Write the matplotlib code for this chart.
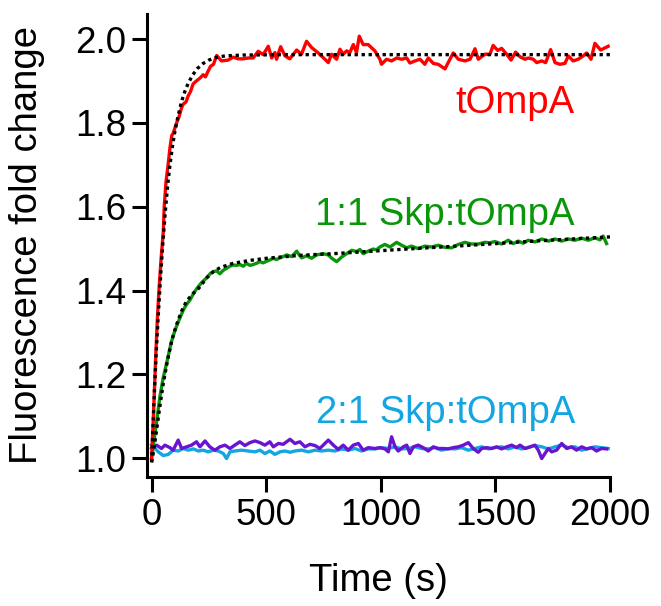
import matplotlib.pyplot as plt

plt.rcParams['font.family'] = ['Liberation Sans', 'DejaVu Sans']

# (time s, fold change)
tompa = [(0, 1.00), (8, 1.10), (17, 1.23), (25, 1.33), (32, 1.40), (42, 1.48), (51, 1.54), (55, 1.60),
         (63, 1.66), (72, 1.70), (80, 1.74), (88, 1.77), (94, 1.775), (109, 1.80), (120, 1.815), (130, 1.835),
         (138, 1.845), (150, 1.85), (160, 1.865), (170, 1.875), (181, 1.893), (195, 1.90), (211, 1.907),
         (225, 1.915), (235, 1.91), (247, 1.924), (257, 1.935), (270, 1.94), (284, 1.961), (305, 1.948),
         (334, 1.95), (356, 1.957), (378, 1.953), (400, 1.953), (421, 1.955), (443, 1.955), (465, 1.971),
         (487, 1.963), (509, 1.983), (524, 1.955), (538, 1.968), (545, 1.952), (563, 1.982), (582, 1.96),
         (603, 1.953), (633, 1.974), (654, 1.964), (676, 1.995), (698, 1.98), (727, 1.967), (756, 1.952),
         (771, 1.944), (785, 1.964), (807, 1.952), (822, 1.976), (836, 1.964), (851, 1.972), (865, 1.968),
         (880, 1.987), (894, 1.968), (906, 2.007), (923, 1.987), (945, 1.987), (974, 1.972), (996, 1.952),
         (1003, 1.94), (1025, 1.952), (1047, 1.948), (1069, 1.955), (1091, 1.952), (1113, 1.955),
         (1127, 1.943), (1149, 1.948), (1171, 1.952), (1192, 1.94), (1207, 1.955), (1229, 1.942),
         (1250, 1.94), (1280, 1.929), (1294, 1.944), (1316, 1.967), (1338, 1.952), (1367, 1.948),
         (1389, 1.952), (1411, 1.977), (1425, 1.952), (1454, 1.964), (1476, 1.964), (1490, 1.985),
         (1510, 1.973), (1527, 1.978), (1549, 1.964), (1568, 1.95), (1588, 1.969), (1607, 1.958),
         (1629, 1.952), (1643, 1.955), (1665, 1.952), (1680, 1.944), (1702, 1.948), (1719, 1.944),
         (1741, 1.975), (1760, 1.944), (1781, 1.94), (1803, 1.942), (1818, 1.96), (1839, 1.948),
         (1861, 1.952), (1883, 1.96), (1898, 1.967), (1917, 1.952), (1934, 1.99), (1959, 1.974),
         (1992, 1.983)]

skp_1to1 = [(0, 1.00), (7, 1.027), (20, 1.08), (36, 1.146), (50, 1.19), (72, 1.242), (85, 1.275),
            (102, 1.305), (120, 1.33), (138, 1.353), (150, 1.365), (167, 1.377), (185, 1.395), (203, 1.409),
            (220, 1.42), (240, 1.43), (255, 1.44), (269, 1.445), (283, 1.447), (298, 1.44), (312, 1.448),
            (327, 1.453), (341, 1.458), (356, 1.461), (370, 1.46), (385, 1.462), (400, 1.458), (414, 1.465),
            (429, 1.46), (443, 1.462), (458, 1.465), (472, 1.469), (487, 1.466), (502, 1.47), (516, 1.473),
            (531, 1.477), (545, 1.474), (560, 1.478), (574, 1.481), (589, 1.485), (611, 1.481), (633, 1.494),
            (644, 1.485), (655, 1.478), (676, 1.483), (698, 1.477), (720, 1.485), (749, 1.488), (771, 1.485),
            (786, 1.477), (807, 1.469), (818, 1.474), (829, 1.48), (851, 1.488), (873, 1.496), (894, 1.493),
            (909, 1.498), (923, 1.488), (945, 1.494), (967, 1.499), (981, 1.497), (996, 1.504), (1018, 1.51),
            (1040, 1.504), (1069, 1.515), (1091, 1.508), (1113, 1.502), (1134, 1.506), (1163, 1.50),
            (1192, 1.506), (1221, 1.504), (1251, 1.508), (1280, 1.503), (1309, 1.502), (1338, 1.51),
            (1367, 1.515), (1396, 1.511), (1425, 1.511), (1454, 1.515), (1476, 1.514), (1498, 1.517),
            (1527, 1.511), (1556, 1.52), (1578, 1.512), (1600, 1.518), (1621, 1.513), (1643, 1.52),
            (1672, 1.516), (1702, 1.523), (1731, 1.518), (1760, 1.523), (1789, 1.518), (1818, 1.523),
            (1847, 1.52), (1876, 1.525), (1905, 1.52), (1934, 1.526), (1956, 1.521), (1970, 1.53),
            (1985, 1.512)]

skp_2to1 = [(0, 1.032), (29, 1.015), (51, 1.006), (73, 1.009), (94, 1.019), (116, 1.017), (138, 1.023),
            (160, 1.019), (182, 1.022), (204, 1.017), (225, 1.019), (247, 1.015), (269, 1.019), (291, 1.017),
            (313, 1.011), (327, 0.999), (342, 1.015), (363, 1.017), (392, 1.019), (422, 1.017), (451, 1.015),
            (473, 1.019), (494, 1.011), (516, 1.017), (538, 1.009), (560, 1.015), (582, 1.017), (604, 1.014),
            (625, 1.017), (654, 1.019), (684, 1.015), (713, 1.019), (742, 1.017), (771, 1.019), (800, 1.017),
            (829, 1.022), (858, 1.019), (887, 1.023), (916, 1.017), (945, 1.022), (974, 1.022), (1003, 1.025),
            (1033, 1.023), (1062, 1.027), (1091, 1.022), (1120, 1.023), (1149, 1.027), (1178, 1.023),
            (1207, 1.022), (1236, 1.025), (1265, 1.019), (1294, 1.023), (1323, 1.022), (1352, 1.025),
            (1382, 1.019), (1411, 1.023), (1440, 1.027), (1469, 1.022), (1498, 1.025), (1527, 1.027),
            (1556, 1.022), (1585, 1.027), (1614, 1.022), (1643, 1.025), (1672, 1.030), (1702, 1.027),
            (1731, 1.022), (1760, 1.027), (1789, 1.031), (1818, 1.025), (1847, 1.027), (1876, 1.019),
            (1905, 1.023), (1934, 1.027), (1963, 1.025), (1992, 1.023)]

skp_2to1_b = [(0, 1.023), (22, 1.031), (43, 1.023), (58, 1.031), (80, 1.025), (94, 1.019), (116, 1.043),
              (131, 1.023), (153, 1.027), (174, 1.031), (196, 1.039), (211, 1.027), (233, 1.041), (254, 1.027),
              (276, 1.019), (298, 1.027), (320, 1.031), (342, 1.023), (363, 1.031), (385, 1.039), (407, 1.030),
              (429, 1.037), (451, 1.041), (473, 1.037), (494, 1.031), (516, 1.039), (531, 1.027), (553, 1.035),
              (574, 1.033), (604, 1.045), (625, 1.035), (647, 1.039), (669, 1.027), (691, 1.033), (713, 1.030),
              (734, 1.023), (756, 1.035), (771, 1.043), (793, 1.031), (814, 1.021), (836, 1.031), (858, 1.019),
              (880, 1.031), (902, 1.035), (923, 1.019), (945, 1.025), (974, 1.023), (996, 1.025), (1018, 1.022),
              (1033, 1.015), (1047, 1.051), (1062, 1.027), (1076, 1.017), (1098, 1.027), (1113, 1.031),
              (1127, 1.011), (1142, 1.027), (1163, 1.031), (1185, 1.025), (1207, 1.017), (1229, 1.027),
              (1251, 1.023), (1272, 1.023), (1294, 1.022), (1316, 1.025), (1338, 1.027), (1360, 1.031),
              (1382, 1.037), (1403, 1.023), (1425, 1.014), (1440, 1.023), (1462, 1.025), (1483, 1.023),
              (1505, 1.027), (1527, 1.022), (1549, 1.027), (1571, 1.031), (1592, 1.025), (1607, 1.031),
              (1629, 1.023), (1651, 1.027), (1672, 1.031), (1687, 1.019), (1702, 0.999), (1716, 1.011),
              (1731, 1.023), (1745, 1.015), (1767, 1.019), (1789, 1.035), (1811, 1.023), (1832, 1.027),
              (1854, 1.019), (1876, 1.027), (1898, 1.022), (1920, 1.025), (1941, 1.017), (1963, 1.023),
              (1985, 1.022)]

fit_tompa = [(0, 0.99), (10, 1.13), (20, 1.25), (30, 1.35), (40, 1.44), (50, 1.52), (60, 1.59), (70, 1.65),
             (80, 1.70), (90, 1.74), (100, 1.775), (115, 1.815), (130, 1.85), (145, 1.875), (160, 1.895),
             (180, 1.915), (200, 1.93), (225, 1.942), (250, 1.95), (280, 1.956), (320, 1.96), (400, 1.962),
             (600, 1.963), (1000, 1.963), (1500, 1.963), (2000, 1.963)]

fit_1to1 = [(0, 0.99), (10, 1.02), (20, 1.06), (35, 1.12), (50, 1.175), (70, 1.235), (90, 1.285),
            (110, 1.32), (130, 1.35), (150, 1.372), (175, 1.39), (200, 1.402), (211, 1.409), (240, 1.43),
            (269, 1.445), (300, 1.455), (356, 1.465), (430, 1.472), (502, 1.477), (647, 1.484), (793, 1.488),
            (938, 1.493), (1113, 1.499), (1300, 1.505), (1500, 1.512), (1700, 1.519), (2000, 1.528)]

labels = ['tOmpA', '1:1 Skp:tOmpA', '2:1 Skp:tOmpA']
label_y = [1.823, 1.556, 1.083]
colors = ['#ff0000', '#0a960a', '#14a5e3']
purple = '#6a14d2'


def xy(pairs):
    return [p[0] for p in pairs], [p[1] for p in pairs]


fig = plt.figure(figsize=(6.61, 6.06), dpi=100)
ax = fig.add_axes([0.2224, 0.2129, 0.7005, 0.764])

lw = 2.4
ax.plot(*xy(skp_2to1), color=colors[2], lw=lw)
ax.plot(*xy(skp_2to1_b), color=purple, lw=lw)
ax.plot(*xy(skp_1to1), color=colors[1], lw=lw)
ax.plot(*xy(tompa), color=colors[0], lw=lw)
for fit in (fit_tompa, fit_1to1):
    ax.plot(*xy(fit), color='black', lw=2.4, linestyle=(0, (1, 1.1)), dash_capstyle='butt')

for text, y, c in zip(labels, label_y, colors):
    ax.text(1847, y, text, color=c, fontsize=27.5, ha='right', va='baseline')

ax.set_xlim(-20, 2000)
ax.set_ylim(0.955, 2.06)
ax.set_xticks([0, 500, 1000, 1500, 2000])
ax.set_yticks([1.0, 1.2, 1.4, 1.6, 1.8, 2.0])
ax.set_yticklabels([f'{v:.1f}' for v in [1.0, 1.2, 1.4, 1.6, 1.8, 2.0]])

for side in ('top', 'right'):
    ax.spines[side].set_visible(False)
for side in ('left', 'bottom'):
    ax.spines[side].set_linewidth(2.2)
ax.tick_params(width=2.2, length=11, labelsize=26.5, pad=4, colors='black')

ax.set_xlabel('Time (s)', fontsize=27.5)
ax.set_ylabel('Fluorescence fold change', fontsize=27.5)
ax.xaxis.set_label_coords(0.5, -0.185)
ax.yaxis.set_label_coords(-0.22, 0.5)

fig.savefig('out.png', dpi=100)
